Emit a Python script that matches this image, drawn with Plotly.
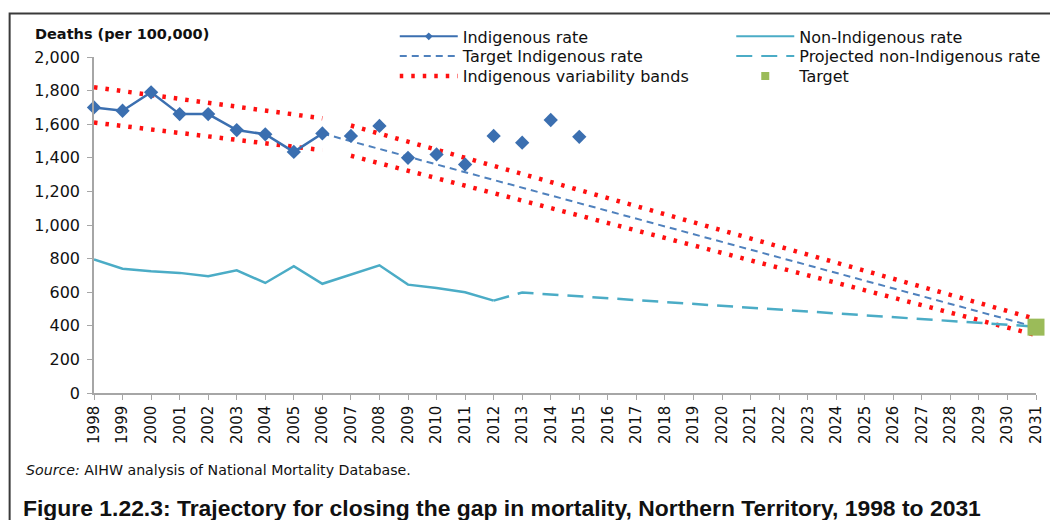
import plotly.graph_objects as go

# ---- data ----
years_ind = list(range(1998, 2016))
ind_rate = [1700, 1680, 1790, 1660, 1660, 1565, 1540, 1435, 1545,
            1530, 1590, 1400, 1420, 1360, 1530, 1490, 1625, 1525]
ind_line_end = 2006  # line joins points up to this year, markers only after

years_non = list(range(1998, 2013))
non_rate = [795, 740, 725, 715, 695, 730, 655, 755, 650, 705, 760, 645, 625, 600, 550]

proj_years = [2012, 2013, 2031]
proj_rate = [550, 598, 395]

target_years = [2006, 2031]
target_rate = [1545, 392]

band_early_years = [1998, 2006]
band_early_upper = [1820, 1635]
band_early_lower = [1610, 1445]
band_late_years = [2007, 2031]
band_late_upper = [1592, 440]
band_late_lower = [1412, 345]

target_point_year = [2031]
target_point_value = [392]

all_years = list(range(1998, 2032))
y_ticks = list(range(0, 2001, 200))

# ---- styles ----
C_IND = "#3B6FB0"
C_TGT = "#4F81BD"
C_NON = "#4BACC6"
C_RED = "#FF1010"
C_GRN = "#9BBB59"
C_TXT = "#111111"
FONT = "DejaVu Sans"
ARIAL = "Liberation Sans, Arial"
DOT = "3.5px,8px"

fig = go.Figure()

# variability bands
for xs, ys in [(band_early_years, band_early_upper),
               (band_early_years, band_early_lower),
               (band_late_years, band_late_upper),
               (band_late_years, band_late_lower)]:
    fig.add_trace(go.Scatter(x=xs, y=ys, mode="lines", showlegend=False,
                             line=dict(color=C_RED, width=4.5, dash=DOT),
                             hoverinfo="skip", cliponaxis=False))

# target indigenous rate
fig.add_trace(go.Scatter(x=target_years, y=target_rate, mode="lines",
                         showlegend=False,
                         line=dict(color=C_TGT, width=2, dash="7px,5px")))
# non-indigenous
fig.add_trace(go.Scatter(x=years_non, y=non_rate, mode="lines", showlegend=False,
                         line=dict(color=C_NON, width=2.5)))
fig.add_trace(go.Scatter(x=proj_years, y=proj_rate, mode="lines", showlegend=False,
                         line=dict(color=C_NON, width=2.5, dash="16px,9px")))
# indigenous
n_line = years_ind.index(ind_line_end) + 1
fig.add_trace(go.Scatter(x=years_ind[:n_line], y=ind_rate[:n_line], mode="lines+markers",
                         showlegend=False, cliponaxis=False,
                         line=dict(color=C_IND, width=2.5),
                         marker=dict(symbol="diamond", size=11, color=C_IND)))
fig.add_trace(go.Scatter(x=years_ind[n_line:], y=ind_rate[n_line:], mode="markers",
                         showlegend=False, cliponaxis=False,
                         marker=dict(symbol="diamond", size=11, color=C_IND)))
# target point
fig.add_trace(go.Scatter(x=target_point_year, y=target_point_value, mode="markers",
                         showlegend=False, cliponaxis=False,
                         marker=dict(symbol="square", size=17, color=C_GRN)))

# ---- geometry (the page shows the figure with an 8px body margin) ----
OFF = 8
W, H = 1050, 512
L, R, T, B = 86, 15, 45, 127
pw, ph = W - L - R, H - T - B


def fx(x_screen):
    return (x_screen - OFF - L) / pw


def fy(y_screen):
    return (H - B - (y_screen - OFF)) / ph


# ---- legend entries: one small legend per row ----
legend_entries = [
    ("Indigenous rate", 397, 32, dict(mode="lines+markers", line=dict(color=C_IND, width=2),
                                      marker=dict(symbol="diamond", size=6, color=C_IND))),
    ("Target Indigenous rate", 397, 52, dict(mode="lines",
                                             line=dict(color=C_TGT, width=2, dash="7px,5px"))),
    ("Indigenous variability bands", 397, 72, dict(mode="lines",
                                                   line=dict(color=C_RED, width=4.5, dash=DOT))),
    ("Non-Indigenous rate", 736, 32, dict(mode="lines", line=dict(color=C_NON, width=2))),
    ("Projected non-Indigenous rate", 736, 52, dict(mode="lines",
                                                    line=dict(color=C_NON, width=2, dash="16px,9px"))),
    ("Target", 736, 72, dict(mode="markers", marker=dict(symbol="square", size=8, color=C_GRN))),
]

legend_layouts = {}
for i, (name, lx, ly, kw) in enumerate(legend_entries):
    key = "legend" if i == 0 else f"legend{i + 1}"
    fig.add_trace(go.Scatter(x=[None], y=[None], name=name, legend=key,
                             showlegend=True, **kw))
    legend_layouts[key] = dict(x=fx(lx), y=fy(ly - 17), xanchor="left", yanchor="top",
                               font=dict(family=FONT, size=16, color=C_TXT),
                               bgcolor="rgba(0,0,0,0)", itemwidth=58,
                               itemclick=False, itemdoubleclick=False)

fig.update_layout(
    width=W, height=H, autosize=False,
    margin=dict(l=L, r=R, t=T, b=B),
    paper_bgcolor="white", plot_bgcolor="white",
    font=dict(family=FONT, color=C_TXT),
    xaxis=dict(range=[1998, 2031], tickmode="array", tickvals=all_years,
               ticktext=[str(y) for y in all_years], tickangle=-90,
               ticks="outside", ticklen=5, tickcolor="#A6A6A6",
               showline=True, linecolor="#A6A6A6", linewidth=1.5,
               showgrid=False, zeroline=False,
               tickfont=dict(family=FONT, size=15, color=C_TXT)),
    yaxis=dict(range=[0, 2000], tickmode="array", tickvals=y_ticks,
               tickformat=",", ticks="outside", ticklen=5, tickcolor="#A6A6A6",
               showline=True, linecolor="#A6A6A6", linewidth=1.5,
               showgrid=False, zeroline=False, ticklabelstandoff=4,
               tickfont=dict(family=FONT, size=16, color=C_TXT)),
    **legend_layouts,
)

fig.add_annotation(text="<b>Deaths (per 100,000)</b>", xref="paper", yref="paper",
                   x=fx(33), y=fy(30), xanchor="left", yanchor="middle",
                   showarrow=False, font=dict(family=FONT, size=14.5, color=C_TXT))
fig.add_annotation(text="<i>Source:</i> AIHW analysis of National Mortality Database.",
                   xref="paper", yref="paper", x=fx(23), y=fy(471),
                   xanchor="left", yanchor="middle", showarrow=False,
                   font=dict(family=FONT, size=14.2, color=C_TXT))
fig.add_annotation(text="<b>Figure 1.22.3: Trajectory for closing the gap in mortality, Northern Territory, 1998 to 2031</b>",
                   xref="paper", yref="paper", x=fx(20), y=fy(509),
                   xanchor="left", yanchor="middle", showarrow=False,
                   font=dict(family=ARIAL, size=22.9, color=C_TXT))

# outer frame
fig.add_shape(type="rect", xref="paper", yref="paper",
              x0=fx(9), x1=fx(1080), y0=fy(560), y1=fy(9),
              line=dict(color="#3A3A3A", width=2), fillcolor="rgba(0,0,0,0)", layer="below")

fig.write_html("out.html")
